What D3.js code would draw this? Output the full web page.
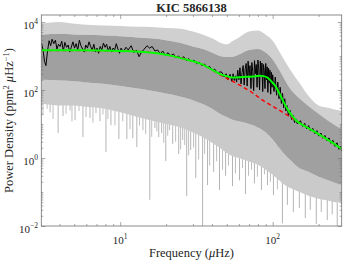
<!DOCTYPE html>
<html><head><meta charset="utf-8">
<script src="https://cdn.jsdelivr.net/npm/d3@7"></script>
<style>
body{margin:0;background:#fff}
svg{display:block}
text{font-family:"Liberation Serif","Times New Roman",serif;fill:#262626}
</style>
</head><body>
<svg id="c" width="349" height="262"></svg>
<script>
// ---------- data ----------
const title = "KIC 5866138";
const xTickMajor = [10, 100];
const xTickLabelsExp = ["1", "2"];
const yTickMajor = [0.01, 1, 100, 10000];
const yTickLabelsExp = ["-2", "0", "2", "4"];

// envelope of the raw (grey) power spectrum, ppm^2/uHz
const envFreq  = [3.05,4,5,6,8,10,13,16,20,25,30,35,40,45,50,55,60,70,80,90,100,110,120,130,150,170,200,230,260,283];
const lightTop = [8900,10000,8900,8300,7900,7600,7200,7100,6600,6300,5200,4200,3300,2500,2200,2800,3500,5200,5600,4200,2800,1400,710,400,160,71,35,30,26,24];
const darkTop  = [4200,4500,4300,4200,4000,3800,3500,3300,2900,2400,1900,1600,1260,1000,930,950,1100,1500,1600,1260,790,400,200,110,56,35,20,12.6,8.9,7.1];
const darkBot  = [200,190,180,166,150,130,110,95,79,63,50,38,28,20,16,13,12,10,7.9,5.6,3.5,2.0,1.26,0.89,0.5,0.4,0.28,0.22,0.18,0.16];
const lightBot = [40,35,35,32,28,22,16,12.6,10,7.9,5.6,4.0,2.8,2.0,1.4,1.1,1.0,0.79,0.63,0.45,0.32,0.22,0.16,0.13,0.1,0.079,0.063,0.056,0.05,0.05];

// deep downward spikes of the raw spectrum
const spikeFreq = [3.22,3.47,3.92,4.22,4.69,5.06,5.70,6.34,6.94,7.37,8.07,8.70,9.81,11.06,12.1,12.86,14.1,15.64,16.9,17.9,18.7,19.9,21.1,22.1,24.2,25.7,27.3,29.0,31.3,34.7,37.4,41.0,44.8,49.1,54.5,60.6,66.3,75.9,84.4,92.4,101.1,115.8,124.8,136.6,149.5,163.6,176.4,193.1,208.2,227.9,245.6,264.9];
const spikePow  = [50,22,5.4,17,25,13,4.1,15,21,12,1.5,9.2,3.6,3.6,3.8,2.1,6.6,0.059,7.6,4.1,5.4,0.81,6.6,2.6,1.3,3.4,0.076,1.7,0.26,0.01,0.16,0.39,0.115,0.3,0.15,0.22,0.087,0.18,0.115,0.16,0.081,0.012,0.042,0.026,0.034,0.017,0.03,0.0115,0.026,0.015,0.022,0.01];
// shorter downward streaks
const streakFreq = [3.12,3.32,3.63,4.42,4.83,5.37,5.97,6.63,7.71,8.31,9.24,10.4,11.6,13.4,14.7,16.1,17.4,19.3,20.5,23.1,24.9,26.5,28.1,30.3,32.7,35.8,38.6,42.9,46.9,51.3,57.0,63.4,69.4,72.6,79.4,88.3,96.6,107.3];
const streakPow  = [18,28,14,20,12,24,16,11,19,14,9,12,7,9,5,4.2,6,2.8,4.5,3.0,1.8,2.4,1.2,2.0,0.9,1.3,0.6,0.8,0.45,0.6,0.35,0.5,0.3,0.45,0.28,0.33,0.2,0.12];

// smoothed spectrum (black)
const blackFreq = [3.05,3.12,3.19,3.26,3.34,3.42,3.5,3.58,3.67,3.76,3.85,3.94,4.04,4.14,4.24,4.34,4.45,4.56,4.67,4.78,4.9,5.02,5.14,5.27,5.4,5.53,5.67,5.81,5.95,6.1,6.25,6.4,6.56,6.72,6.88,7.05,7.22,7.4,7.58,7.77,7.96,8.15,8.35,8.56,8.77,8.98,9.2,9.43,9.66,9.9,10.14,
  10.5,10.9,11.3,11.8,12.3,12.8,13.3,13.8,14.4,15.0,15.6,16.2,16.9,17.6,18.3,19.0,19.8,20.6,21.4,22.3,23.2,24.1,25.1,26.1,27.1,28.2,29.3,30.5,31.7,33.0,34.3,35.7,37.1,38.6,40.1,41.7,43.4,45.1,
  46.5,48,49.5,51,52.5,54,55,56,57,58,59,60,61,62,63,64,65,66,67,68,69,70,71,72,73,74,75,76,77,78,79,80,81,82,83,84,85,86,87,88,89,90,91,92,93,94,95,96,97,98,99,100,
  102,104,106,108,110,112,114,116,118,120,122,124,127,130,133,136,139,142,145,148,
  152,157,162,167,172,177,183,189,195,201,207,213,220,227,234,241,248,256,264,272,280,283];
const blackPow = [2400,1500,700,520,1400,2800,2000,3100,2300,2900,1600,2200,1900,2700,1400,2500,1800,2100,1300,1800,2600,1700,2300,1500,2900,2000,1600,1300,2100,1700,2600,1900,1500,2200,1300,1700,1200,1900,1500,2400,1800,2200,1400,1900,1300,1700,1500,2300,1600,1200,1700,
  1300,1800,1500,2000,1250,1500,950,1300,1600,2000,1700,1900,1400,1500,1150,1400,1050,1250,1000,1150,900,1000,820,950,740,830,680,760,590,660,520,580,450,490,380,410,310,340,
  330,240,300,200,290,180,300,190,260,170,380,200,450,150,330,520,140,420,600,130,700,260,520,110,640,350,95,730,300,560,120,760,420,100,700,250,620,90,560,380,110,600,200,480,85,430,160,380,75,330,120,280,
  90,240,70,170,55,120,40,80,30,55,24,35,17,25,13.5,18,11,14,10,11,
  12.5,8.5,10.5,7.2,9.0,6.2,7.4,5.2,6.4,4.4,5.4,3.8,4.6,3.2,3.9,2.7,3.3,2.2,2.8,1.8,2.2,1.6];

// fitted model (green) and background component (red dashed)
const fitFreq = [3.05,5.5,10,16.4,21,27.3,33.2,42.7,44.8,50,54.8,63.7,74,81.8,87,92.7,98,105.2,110,116.4,122,128.5,142,165,200,230,260,283];
const fitPow  = [1460,1460,1410,1250,1040,780,607,337,298,255,231,240,249,261,255,228,178,122,83,50,33,22.6,12.9,8.3,5.0,3.4,2.4,1.85];
const bgFreq = [3.05,10,16.4,21,27.3,33.2,42.7,45,50,64,75,86,98,110.6,128,142,165,200,230,283];
const bgPow  = [1460,1410,1250,1040,780,600,330,282,220,122,78,50,35,25.4,17,12.9,8.3,5.0,3.4,1.85];

// ---------- drawing ----------
const svg = d3.select("#c");
const L = 41.3, R = 341.7, T = 15, B = 226;
const x = d3.scaleLog().domain([3.04, 283.4]).range([L, R]);
const y = d3.scaleLog().domain([0.01, 16000]).range([B, T]);

svg.append("clipPath").attr("id","clip").append("rect")
  .attr("x",L).attr("y",T).attr("width",R-L).attr("height",B-T);
const g = svg.append("g").attr("clip-path","url(#clip)");

function envAt(arr, f){
  const i = Math.max(1, Math.min(envFreq.length-1, d3.bisectLeft(envFreq, f)));
  const f0=envFreq[i-1], f1=envFreq[i];
  const t=(Math.log(f)-Math.log(f0))/(Math.log(f1)-Math.log(f0));
  return Math.exp(Math.log(arr[i-1])*(1-t)+Math.log(arr[i])*t);
}

const env = envFreq.map((f,i)=>({f,lt:lightTop[i],dt:darkTop[i],db:darkBot[i],lb:lightBot[i]}));

// spikes and streaks (under the areas)
function spikes(fs, ps, col){
  g.append("g").selectAll("line").data(fs.map((f,i)=>({f,p:ps[i]}))).join("line")
    .attr("x1",d=>x(d.f)).attr("x2",d=>x(d.f))
    .attr("y1",d=>y(d.p)).attr("y2",d=>y(envAt(darkBot,d.f)))
    .attr("stroke",col).attr("stroke-width",1);
}
spikes(spikeFreq, spikePow, "#b4b4b4");
spikes(streakFreq, streakPow, "#bdbdbd");

const area = (a,b)=>d3.area().x(d=>x(d.f)).y0(d=>y(d[a])).y1(d=>y(d[b])).curve(d3.curveMonotoneX);
g.append("path").datum(env).attr("d",area("dt","lt")).attr("fill","#d0d0d0");
g.append("path").datum(env).attr("d",area("lb","db")).attr("fill","#cacaca");
g.append("path").datum(env).attr("d",area("db","dt")).attr("fill","#a0a0a0");

const line = d3.line().x(d=>x(d[0])).y(d=>y(d[1]));
g.append("path").datum(blackFreq.map((f,i)=>[f,blackPow[i]]))
  .attr("d",line).attr("fill","none").attr("stroke","#000").attr("stroke-width",1);

const smooth = d3.line().x(d=>x(d[0])).y(d=>y(d[1])).curve(d3.curveMonotoneX);
g.append("path").datum(bgFreq.map((f,i)=>[f,bgPow[i]]))
  .attr("d",smooth).attr("fill","none").attr("stroke","#ff0000").attr("stroke-width",1.5)
  .attr("stroke-dasharray","4,3");
g.append("path").datum(fitFreq.map((f,i)=>[f,fitPow[i]]))
  .attr("d",smooth).attr("fill","none").attr("stroke","#00ff00").attr("stroke-width",2);

// ---------- axes ----------
const axCol = "#6e6e6e";
const xMinor = [4,5,6,7,8,9,20,30,40,50,60,70,80,90,200];
const yMinor = [];
[-2,-1,0,1,2,3].forEach(n=>{ for(let k=2;k<=9;k++) yMinor.push(k*Math.pow(10,n)); });
[0.1,10,1000].forEach(v=>yMinor.push(v));

function ticks(axisFn, scale, vals, size, tr){
  svg.append("g").attr("transform",tr)
    .call(axisFn(scale).tickValues(vals).tickSize(size).tickFormat(""))
    .call(s=>{s.select(".domain").remove(); s.selectAll("line").attr("stroke",axCol).attr("stroke-width",0.6);});
}
ticks(d3.axisBottom, x, xTickMajor, -4, `translate(0,${B})`);
ticks(d3.axisBottom, x, xMinor, -2, `translate(0,${B})`);
ticks(d3.axisTop, x, xTickMajor, -4, `translate(0,${T})`);
ticks(d3.axisTop, x, xMinor, -2, `translate(0,${T})`);
ticks(d3.axisLeft, y, yTickMajor, -4, `translate(${L},0)`);
ticks(d3.axisLeft, y, yMinor, -2, `translate(${L},0)`);
ticks(d3.axisRight, y, yTickMajor, -4, `translate(${R},0)`);
ticks(d3.axisRight, y, yMinor, -2, `translate(${R},0)`);

svg.append("rect").attr("x",L).attr("y",T).attr("width",R-L).attr("height",B-T)
  .attr("fill","none").attr("stroke",axCol).attr("stroke-width",0.8);

// tick labels
xTickMajor.forEach((v,i)=>{
  const t = svg.append("text").attr("x",x(v)).attr("y",244).attr("text-anchor","middle").attr("font-size",11);
  t.append("tspan").text("10");
  t.append("tspan").attr("dy",-5).attr("font-size",7.5).text(xTickLabelsExp[i]);
});
yTickMajor.forEach((v,i)=>{
  const t = svg.append("text").attr("x",38).attr("y",y(v)+7).attr("text-anchor","end").attr("font-size",11);
  t.append("tspan").text("10");
  t.append("tspan").attr("dy",-5).attr("font-size",7.5).text(yTickLabelsExp[i].replace("-","\u2212"));
});

// title & axis labels
svg.append("text").attr("x",(L+R)/2).attr("y",12).attr("text-anchor","middle")
  .attr("font-size",12.5).attr("font-weight","bold").text(title);

const xl = svg.append("text").attr("x",(L+R)/2).attr("y",257).attr("text-anchor","middle").attr("font-size",12.5);
xl.append("tspan").text("Frequency (");
xl.append("tspan").attr("font-style","italic").text("\u03bc");
xl.append("tspan").text("Hz)");

const yl = svg.append("text").attr("transform",`translate(13,${(T+B)/2}) rotate(-90)`)
  .attr("text-anchor","middle").attr("font-size",12.5);
yl.append("tspan").text("Power Density (ppm");
yl.append("tspan").attr("dy",-4.5).attr("font-size",8.5).text("2");
yl.append("tspan").attr("dy",4.5).text(" ");
yl.append("tspan").attr("font-style","italic").text("\u03bc");
yl.append("tspan").text("Hz");
yl.append("tspan").attr("dy",-4.5).attr("font-size",8.5).text("\u22121");
yl.append("tspan").attr("dy",4.5).text(")");
</script>
</body></html>
